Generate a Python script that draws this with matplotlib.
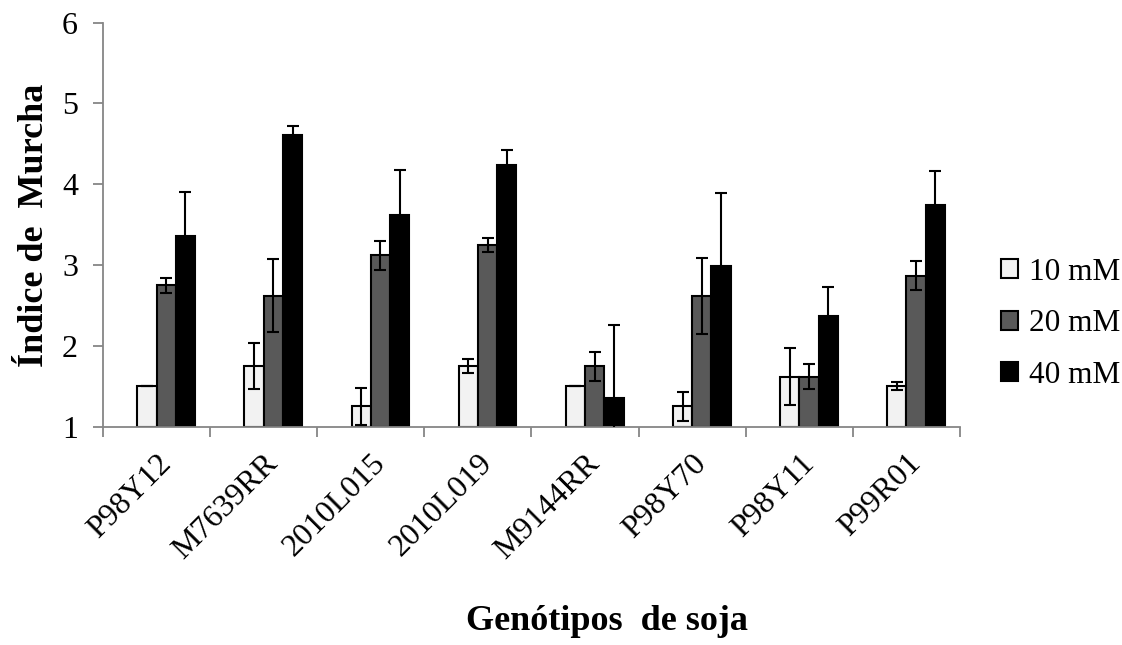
import matplotlib
matplotlib.use("Agg")
import matplotlib.pyplot as plt
import numpy as np

categories = ["P98Y12", "M7639RR", "2010L015", "2010L019", "M9144RR", "P98Y70", "P98Y11", "P99R01"]
series_names = ["10 mM", "20 mM", "40 mM"]
vals_10 = [1.50, 1.75, 1.25, 1.75, 1.50, 1.25, 1.62, 1.50]
vals_20 = [2.75, 2.62, 3.12, 3.25, 1.75, 2.62, 1.62, 2.87]
vals_40 = [3.36, 4.61, 3.62, 4.24, 1.36, 2.99, 2.37, 3.74]
err_10 = [0.00, 0.28, 0.23, 0.09, 0.00, 0.18, 0.35, 0.05]
err_20 = [0.09, 0.45, 0.18, 0.09, 0.18, 0.47, 0.15, 0.18]
err_40 = [0.54, 0.11, 0.56, 0.19, 0.90, 0.90, 0.36, 0.43]

plt.rcParams['font.family'] = ['Liberation Serif', 'DejaVu Serif']

fig = plt.figure(figsize=(11.22, 6.45), dpi=100)
ax = fig.add_axes([0.0918, 0.3385, 0.7638, 0.6263])

x = np.arange(len(categories))
w = 0.18
offsets = [-0.5 * w, 0.5 * w, 1.5 * w]
fills = ["#F2F2F2", "#595959", "#000000"]
data = [vals_10, vals_20, vals_40]
errs = [err_10, err_20, err_40]
bottom = 1.0
for i in range(3):
    heights = np.array(data[i]) - bottom
    ax.bar(x + offsets[i], heights, width=w, bottom=bottom, color=fills[i],
           edgecolor="black", linewidth=1.5, label=series_names[i], zorder=2)
    ax.errorbar(x + offsets[i], data[i], yerr=errs[i], fmt="none", ecolor="black",
                elinewidth=1.5, capsize=4.5, capthick=1.5, zorder=3)

ax.set_xlim(-0.5, len(categories) - 0.5)
ax.set_ylim(1, 6)
ax.set_yticks([1, 2, 3, 4, 5, 6])
ax.set_xticks(np.arange(-0.5, len(categories), 1.0))
ax.set_xticklabels([])
ax.set_xticks(x, minor=True)
ax.set_xticklabels(categories, minor=True, rotation=45, ha="right",
                   rotation_mode="anchor", fontsize=23)
ax.tick_params(axis="x", which="minor", length=0, pad=16)
ax.tick_params(axis="x", which="major", length=7, width=1.3, color="#868686", direction="out")
ax.tick_params(axis="y", length=7, width=1.3, color="#868686", direction="out", labelsize=23, pad=11)

for s in ["top", "right"]:
    ax.spines[s].set_visible(False)
for s in ["left", "bottom"]:
    ax.spines[s].set_color("#868686")
    ax.spines[s].set_linewidth(1.3)

fig.text(0.0305, 0.650, "Índice de  Murcha", rotation=90, ha="center", va="center",
         fontsize=26, fontweight="bold")
fig.text(0.541, 0.036, "Genótipos  de soja", ha="center", va="center",
         fontsize=26, fontweight="bold")

leg = ax.legend(loc="center left", bbox_to_anchor=(1.048, 0.255), frameon=False,
                fontsize=22.5, handlelength=0.55, handleheight=0.55, handletextpad=0.35,
                labelspacing=0.72, borderpad=0, borderaxespad=0)

fig.savefig("out.png", dpi=100)
